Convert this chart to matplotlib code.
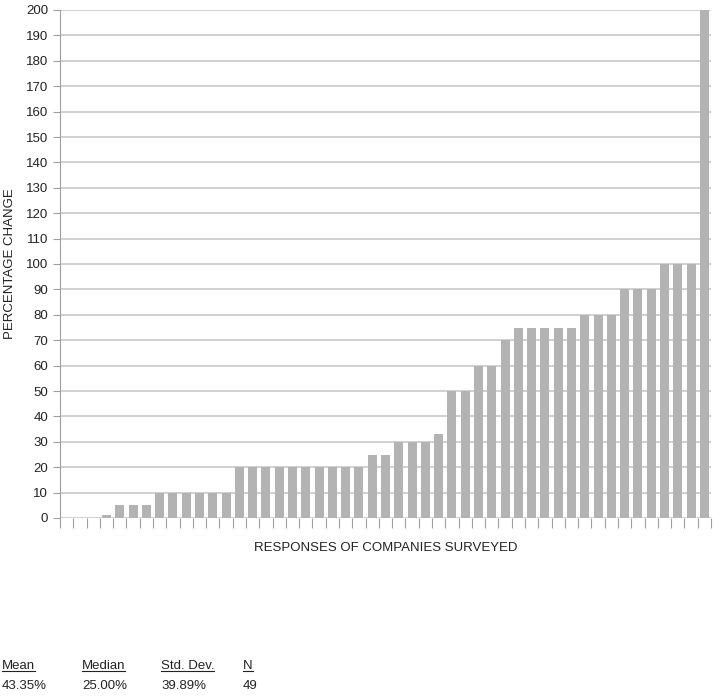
import numpy as np
import matplotlib
matplotlib.use("Agg")
import matplotlib.pyplot as plt
from matplotlib.lines import Line2D

plt.rcParams['font.family'] = ['Liberation Sans', 'DejaVu Sans']

# percentage change reported by each company, sorted
valores = [0, 0, 0, 1, 5, 5, 5, 10, 10, 10, 10, 10, 10,
           20, 20, 20, 20, 20, 20, 20, 20, 20, 20,
           25, 25, 30, 30, 30, 33, 50, 50, 60, 60, 70,
           75, 75, 75, 75, 75, 80, 80, 80, 90, 90, 90,
           100, 100, 100, 200]

estat_nomes = ['Mean', 'Median', 'Std. Dev.', 'N']
estat_valores = ['43.35%', '25.00%', '39.89%', '49']

cinza = '#b3b3b3'
linha = '#c8c8c8'

fig = plt.figure(figsize=(7.25, 6.98), dpi=100)
ax = fig.add_axes([60 / 725, 1 - 518 / 698, 651 / 725, 508 / 698])

x = np.arange(len(valores))
ax.bar(x, valores, width=0.68, color=cinza, zorder=3)

ax.set_xlim(-0.5, len(valores) - 0.5)
ax.set_ylim(0, 200)
ax.set_yticks(range(0, 201, 10))
ax.set_xticks(np.arange(-0.5, len(valores), 1.0))
ax.set_xticklabels([])
ax.grid(axis='y', color=linha, linewidth=1.2, zorder=0)

for lado in ['top', 'right', 'bottom']:
    ax.spines[lado].set_visible(False)
ax.spines['left'].set_color('#a0a0a0')
ax.tick_params(axis='y', colors='#a0a0a0', labelcolor='#222222', length=5, labelsize=9.5)
ax.tick_params(axis='x', colors='#a0a0a0', length=7)

ax.set_ylabel('PERCENTAGE CHANGE', fontsize=9.5, color='#222222', labelpad=7)
ax.set_xlabel('RESPONSES OF COMPANIES SURVEYED', fontsize=9.5, color='#222222', labelpad=7)

# stats table below the chart
colunas = [2, 82, 161, 243]
textos = []
for cx, nome, val in zip(colunas, estat_nomes, estat_valores):
    t = fig.text(cx / 725, 1 - 669 / 698, nome, fontsize=9.5, color='#222222', va='baseline')
    fig.text(cx / 725, 1 - 689 / 698, val, fontsize=9.5, color='#222222', va='baseline')
    textos.append(t)

fig.canvas.draw()
r = fig.canvas.get_renderer()
for t in textos:
    bb = t.get_window_extent(r).transformed(fig.transFigure.inverted())
    y = 1 - 671 / 698
    fig.add_artist(Line2D([bb.x0, bb.x1], [y, y], color='#222222', linewidth=0.8,
                          transform=fig.transFigure))

fig.savefig('out.png', dpi=100)
